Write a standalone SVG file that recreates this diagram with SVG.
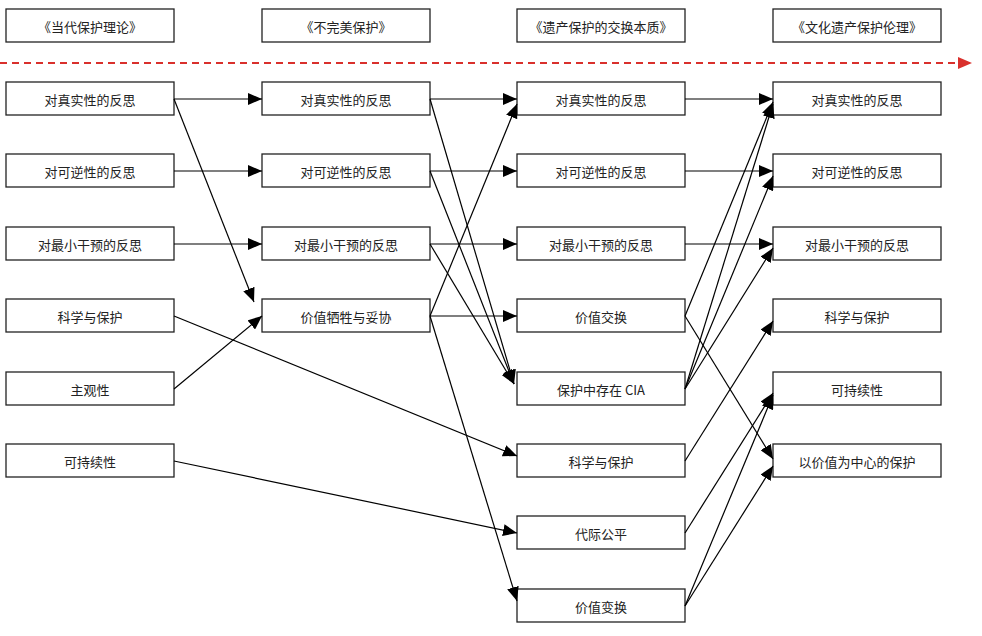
<svg xmlns="http://www.w3.org/2000/svg" width="982" height="636" viewBox="0 0 982 636">
<style>
rect{fill:#fff;stroke:#222;stroke-width:1.3}
text{font-family:"Noto Sans CJK SC","Noto Sans",sans-serif;font-size:13px;fill:#222;text-anchor:middle;dominant-baseline:central}
#edges line{stroke:#000;stroke-width:1.2;marker-end:url(#a)}
</style>
<defs>
<marker id="a" markerWidth="14" markerHeight="12" refX="14" refY="6" orient="auto" markerUnits="userSpaceOnUse"><path d="M0,0L14,6L0,12z" fill="#000"/></marker>
<marker id="r" markerWidth="14" markerHeight="12" refX="14" refY="6" orient="auto" markerUnits="userSpaceOnUse"><path d="M0,0L14,6L0,12z" fill="#d9302c"/></marker>
</defs>
<line x1="0" y1="63" x2="972" y2="63" stroke="#d9302c" stroke-width="2" stroke-dasharray="7,5" marker-end="url(#r)"/>
<g id="h1"><rect x="6" y="9" width="168" height="33"/><text x="90" y="26">《当代保护理论》</text></g>
<g id="h2"><rect x="262" y="9" width="168" height="33"/><text x="346" y="26">《不完美保护》</text></g>
<g id="h3"><rect x="517" y="9" width="168" height="33"/><text x="601" y="26">《遗产保护的交换本质》</text></g>
<g id="h4"><rect x="773" y="9" width="168" height="33"/><text x="857" y="26">《文化遗产保护伦理》</text></g>
<g id="a1"><rect x="6" y="82" width="168" height="33"/><text x="90" y="99">对真实性的反思</text></g>
<g id="a2"><rect x="6" y="154" width="168" height="33"/><text x="90" y="171">对可逆性的反思</text></g>
<g id="a3"><rect x="6" y="227" width="168" height="33"/><text x="90" y="244">对最小干预的反思</text></g>
<g id="a4"><rect x="6" y="299" width="168" height="33"/><text x="90" y="316">科学与保护</text></g>
<g id="a5"><rect x="6" y="372" width="168" height="33"/><text x="90" y="389">主观性</text></g>
<g id="a6"><rect x="6" y="444" width="168" height="33"/><text x="90" y="461">可持续性</text></g>
<g id="b1"><rect x="262" y="82" width="168" height="33"/><text x="346" y="99">对真实性的反思</text></g>
<g id="b2"><rect x="262" y="154" width="168" height="33"/><text x="346" y="171">对可逆性的反思</text></g>
<g id="b3"><rect x="262" y="227" width="168" height="33"/><text x="346" y="244">对最小干预的反思</text></g>
<g id="b4"><rect x="262" y="299" width="168" height="33"/><text x="346" y="316">价值牺牲与妥协</text></g>
<g id="c1"><rect x="517" y="82" width="168" height="33"/><text x="601" y="99">对真实性的反思</text></g>
<g id="c2"><rect x="517" y="154" width="168" height="33"/><text x="601" y="171">对可逆性的反思</text></g>
<g id="c3"><rect x="517" y="227" width="168" height="33"/><text x="601" y="244">对最小干预的反思</text></g>
<g id="c4"><rect x="517" y="299" width="168" height="33"/><text x="601" y="316">价值交换</text></g>
<g id="c5"><rect x="517" y="372" width="168" height="33"/><text x="601" y="389">保护中存在 CIA</text></g>
<g id="c6"><rect x="517" y="444" width="168" height="33"/><text x="601" y="461">科学与保护</text></g>
<g id="c7"><rect x="517" y="516" width="168" height="33"/><text x="601" y="533">代际公平</text></g>
<g id="c8"><rect x="517" y="589" width="168" height="33"/><text x="601" y="606">价值变换</text></g>
<g id="d1"><rect x="773" y="82" width="168" height="33"/><text x="857" y="99">对真实性的反思</text></g>
<g id="d2"><rect x="773" y="154" width="168" height="33"/><text x="857" y="171">对可逆性的反思</text></g>
<g id="d3"><rect x="773" y="227" width="168" height="33"/><text x="857" y="244">对最小干预的反思</text></g>
<g id="d4"><rect x="773" y="299" width="168" height="33"/><text x="857" y="316">科学与保护</text></g>
<g id="d5"><rect x="773" y="372" width="168" height="33"/><text x="857" y="389">可持续性</text></g>
<g id="d6"><rect x="773" y="444" width="168" height="33"/><text x="857" y="461">以价值为中心的保护</text></g>
<g id="edges">
<line x1="174" y1="99" x2="262" y2="99"/>
<line x1="174" y1="99" x2="254" y2="302"/>
<line x1="174" y1="171" x2="262" y2="171"/>
<line x1="174" y1="244" x2="262" y2="244"/>
<line x1="174" y1="316" x2="517" y2="456"/>
<line x1="174" y1="389" x2="262" y2="316"/>
<line x1="174" y1="461" x2="517" y2="533"/>
<line x1="430" y1="99" x2="517" y2="99"/>
<line x1="430" y1="99" x2="514" y2="384"/>
<line x1="430" y1="171" x2="517" y2="171"/>
<line x1="430" y1="171" x2="514" y2="384"/>
<line x1="430" y1="244" x2="517" y2="244"/>
<line x1="430" y1="244" x2="514" y2="384"/>
<line x1="430" y1="316" x2="517" y2="104"/>
<line x1="430" y1="316" x2="517" y2="316"/>
<line x1="430" y1="316" x2="517" y2="601"/>
<line x1="685" y1="99" x2="773" y2="99"/>
<line x1="685" y1="171" x2="773" y2="171"/>
<line x1="685" y1="244" x2="773" y2="244"/>
<line x1="685" y1="316" x2="773" y2="102"/>
<line x1="685" y1="316" x2="773" y2="459"/>
<line x1="685" y1="389" x2="773" y2="104"/>
<line x1="685" y1="389" x2="773" y2="176"/>
<line x1="685" y1="389" x2="773" y2="248"/>
<line x1="685" y1="461" x2="773" y2="321"/>
<line x1="685" y1="533" x2="773" y2="393"/>
<line x1="685" y1="606" x2="773" y2="395"/>
<line x1="685" y1="606" x2="773" y2="466"/>
</g>
</svg>
